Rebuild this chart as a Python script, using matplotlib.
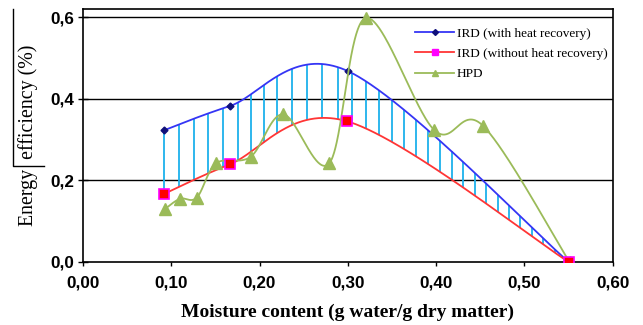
import matplotlib
matplotlib.use("Agg")
import matplotlib.pyplot as plt
from matplotlib.lines import Line2D
import numpy as np

# data
ird_hr_x = [0.092, 0.166, 0.300, 0.550]
ird_hr_y = [0.323, 0.382, 0.468, 0.000]

ird_x = [0.092, 0.166, 0.299, 0.550]
ird_y = [0.167, 0.239, 0.345, 0.000]

hpd_x = [0.093, 0.110, 0.129, 0.151, 0.190, 0.227, 0.279, 0.320, 0.398, 0.453, 0.551]
hpd_y = [0.130, 0.155, 0.158, 0.242, 0.258, 0.362, 0.242, 0.598, 0.323, 0.334, 0.000]

x_ticks = [0.0, 0.1, 0.2, 0.3, 0.4, 0.5, 0.6]
x_tick_labels = ["0,00", "0,10", "0,20", "0,30", "0,40", "0,50", "0,60"]
y_ticks = [0.0, 0.2, 0.4, 0.6]
y_tick_labels = ["0,0", "0,2", "0,4", "0,6"]


def smooth(x, y, n=60):
    # Excel-style smoothed line: cubic Bezier segments, tangents (P[i+1]-P[i-1])/6
    p = np.column_stack([x, y]).astype(float)
    m = len(p)
    out = []
    for i in range(m - 1):
        p0 = p[max(i - 1, 0)]
        p1 = p[i]
        p2 = p[i + 1]
        p3 = p[min(i + 2, m - 1)]
        c1 = p1 + (p2 - p0) / 6.0
        c2 = p2 - (p3 - p1) / 6.0
        t = np.linspace(0, 1, n)[:, None]
        seg = ((1 - t) ** 3) * p1 + 3 * ((1 - t) ** 2) * t * c1 + 3 * (1 - t) * t ** 2 * c2 + t ** 3 * p2
        out.append(seg if i == 0 else seg[1:])
    s = np.vstack(out)
    return s[:, 0], s[:, 1]


fig = plt.figure(figsize=(6.43, 3.25), dpi=100)
ax = fig.add_axes([0.129, 0.194, 0.824, 0.778])

bx, by = smooth(ird_hr_x, ird_hr_y, 200)
rx, ry = smooth(ird_x, ird_y, 200)
gx, gy = smooth(hpd_x, hpd_y, 80)

# hatch lines between the two IRD curves, evenly spaced along the blue curve
sx, sy = 883.0, 408.0  # pixels per data unit
arc = np.concatenate([[0], np.cumsum(np.hypot(np.diff(bx) * sx, np.diff(by) * sy))])
pos = np.arange(0, arc[-1], 15.8)
hx = np.interp(pos, arc, bx)
hy_top = np.interp(pos, arc, by)
hy_bot = np.interp(hx, rx, ry)
ax.vlines(hx, hy_bot, hy_top, color="#1DB1EC", lw=1.3, zorder=2)

for g in [0.2, 0.4, 0.6]:
    ax.axhline(g, color="black", lw=1.0, zorder=1)

ax.plot(bx, by, color="#3535F5", lw=1.3, zorder=3)
ax.plot(ird_hr_x, ird_hr_y, ls="none", marker="D", ms=3.5, color="#10107A", zorder=4)
ax.plot(rx, ry, color="#FF3535", lw=1.3, zorder=3)
ax.plot(ird_x, ird_y, ls="none", marker="s", ms=7, mfc="#FF0000", mec="#FF00FF", mew=1.2, zorder=6)
ax.plot(gx, gy, color="#9BBB59", lw=1.3, zorder=4)
ax.plot(hpd_x, hpd_y, ls="none", marker="^", ms=9, color="#9BBB59", zorder=5)

ax.set_xlim(0, 0.6)
ax.set_ylim(0, 0.62)
ax.set_xticks(x_ticks)
ax.set_xticklabels(x_tick_labels)
ax.set_yticks(y_ticks)
ax.set_yticklabels(y_tick_labels)
for lab in ax.get_xticklabels() + ax.get_yticklabels():
    lab.set_fontfamily("Liberation Sans")
    lab.set_fontweight("bold")
    lab.set_fontsize(12.3)
ax.tick_params(axis="x", direction="out", length=3, width=1, colors="black", pad=7)
ax.tick_params(axis="y", direction="inout", length=7, width=1, colors="black", pad=3)
for sp in ax.spines.values():
    sp.set_linewidth(1.2)

ax.set_xlabel("Moisture content (g water/g dry matter)", family="Liberation Serif",
              fontweight="bold", fontsize=14, labelpad=9)
ax.set_ylabel("Energy  efficiency (%)", family="Liberation Serif",
              fontsize=14.3, labelpad=9)

handles = [
    Line2D([], [], color="#3535F5", lw=1.3, marker="D", ms=3, mfc="#10107A", mec="#10107A"),
    Line2D([], [], color="#FF3535", lw=1.3, marker="s", ms=5, mfc="#FF00FF", mec="#FF00FF"),
    Line2D([], [], color="#9BBB59", lw=1.3, marker="^", ms=5),
]
ax.legend(handles, ["IRD (with heat recovery)", "IRD (without heat recovery)", "HPD"],
          loc="upper right", bbox_to_anchor=(1.013, 0.975), frameon=False,
          prop={"family": "Liberation Serif", "size": 9.5}, handlelength=3.0,
          handletextpad=0.2, labelspacing=0.62)

# stray line artefact near the y label
fig.add_artist(Line2D([13 / 643, 13 / 643, 44 / 643], [1 - 9 / 325, 1 - 166 / 325, 1 - 166 / 325],
                      color="black", lw=1.0))

fig.savefig("out.png", dpi=100)
